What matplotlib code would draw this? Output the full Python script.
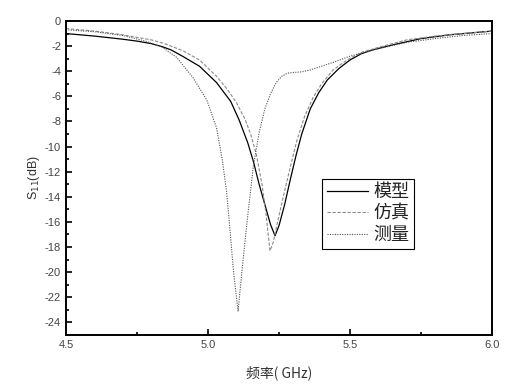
import numpy as np
import matplotlib
matplotlib.use("Agg")
import matplotlib.pyplot as plt

plt.rcParams['font.family'] = ['Liberation Sans', 'Noto Sans CJK SC', 'DejaVu Sans']

# frequency (GHz) / S11 (dB)
freq_model = [4.50, 4.60, 4.70, 4.75, 4.80, 4.84, 4.87, 4.91, 4.97, 5.03, 5.08, 5.11, 5.14,
              5.16, 5.18, 5.20, 5.22, 5.236, 5.25, 5.27, 5.29, 5.31, 5.33, 5.36, 5.39,
              5.42, 5.46, 5.50, 5.54, 5.58, 5.65, 5.75, 5.85, 6.00]
s11_model = [-1.0, -1.2, -1.45, -1.6, -1.8, -2.05, -2.3, -2.8, -3.6, -4.9, -6.4, -7.9, -9.7,
             -11.2, -13.0, -14.6, -16.2, -17.1, -16.3, -14.6, -12.6, -10.7, -9.0, -7.0, -5.7,
             -4.7, -3.8, -3.1, -2.6, -2.3, -1.9, -1.4, -1.1, -0.8]

freq_sim = [4.50, 4.60, 4.70, 4.75, 4.80, 4.84, 4.87, 4.91, 4.97, 5.03, 5.07, 5.10, 5.13,
            5.15, 5.17, 5.19, 5.205, 5.218, 5.23, 5.245, 5.264, 5.29, 5.313, 5.34, 5.37,
            5.40, 5.44, 5.49, 5.54, 5.60, 5.70, 5.80, 5.90, 6.00]
s11_sim = [-0.6, -0.8, -1.1, -1.3, -1.5, -1.75, -2.0, -2.35, -3.1, -4.4, -5.5, -6.5, -7.8,
           -9.0, -10.6, -13.0, -15.5, -18.3, -17.6, -16.0, -14.1, -11.6, -9.5, -7.6, -6.1,
           -5.0, -3.9, -3.1, -2.5, -2.1, -1.5, -1.2, -1.0, -0.8]

freq_meas = [4.50, 4.60, 4.70, 4.78, 4.84, 4.89, 4.947, 4.996, 5.03, 5.05, 5.065, 5.077, 5.09,
             5.106, 5.12, 5.14, 5.16, 5.18, 5.20, 5.22, 5.24, 5.26, 5.28, 5.30, 5.33,
             5.36, 5.40, 5.44, 5.50, 5.55, 5.60, 5.70, 5.80, 5.90, 6.00]
s11_meas = [-0.7, -0.85, -1.15, -1.6, -2.1, -2.9, -4.5, -6.3, -8.5, -11.0, -13.5, -16.5, -20.0,
            -23.1, -19.8, -15.5, -11.5, -8.9, -7.0, -5.8, -4.9, -4.4, -4.15, -4.1, -4.05,
            -3.9, -3.6, -3.3, -2.8, -2.5, -2.2, -1.7, -1.4, -1.15, -1.0]

series_labels = ['模型', '仿真', '测量']
xticks = [4.5, 5.0, 5.5, 6.0]
yticks = list(range(-24, 1, 2))

fig = plt.figure(figsize=(5.11, 3.89), dpi=100)
ax = fig.add_axes([0.129, 0.139, 0.834, 0.807])

ax.plot(freq_model, s11_model, color='black', lw=0.9, label=series_labels[0])
ax.plot(freq_sim, s11_sim, color='#8a8a8a', lw=0.8, ls=(0, (3, 1.5)), label=series_labels[1])
ax.plot(freq_meas, s11_meas, color='#505050', lw=0.8, ls=(0, (1, 1.2)), label=series_labels[2])

ax.set_xlim(4.5, 6.0)
ax.set_ylim(-25, 0)
ax.set_xticks(xticks)
ax.set_xticklabels([f'{t:.1f}' for t in xticks])
ax.set_xticks([4.75, 5.25, 5.75], minor=True)
ax.set_yticks(yticks)
ax.set_yticklabels([str(t) for t in yticks])
ax.set_yticks(np.arange(-25, 0, 2), minor=True)

ax.tick_params(which='both', direction='in', width=1.2, colors='black', labelcolor='#444444',
               labelsize=8)
ax.tick_params(which='major', length=4)
ax.tick_params(which='minor', length=2.5)
for s in ax.spines.values():
    s.set_linewidth(1.4)

ax.set_ylabel('S$_{11}$(dB)', fontsize=9, color='#333333', labelpad=2)
ax.set_xlabel('频率( GHz)', fontsize=10, color='#333333', labelpad=11,
              family=['Noto Sans CJK SC', 'DejaVu Sans'])

leg = ax.legend(loc='lower left', bbox_to_anchor=(0.601, 0.274), frameon=True, fancybox=False,
                edgecolor='black', framealpha=1, borderpad=0.25, labelspacing=0.2,
                handlelength=2.3, handletextpad=0.3, borderaxespad=0,
                prop={'family': ['Noto Sans CJK SC'], 'size': 13})
leg.get_frame().set_linewidth(0.8)
for t in leg.get_texts():
    t.set_color('#222222')

fig.savefig('out.png', dpi=100)
